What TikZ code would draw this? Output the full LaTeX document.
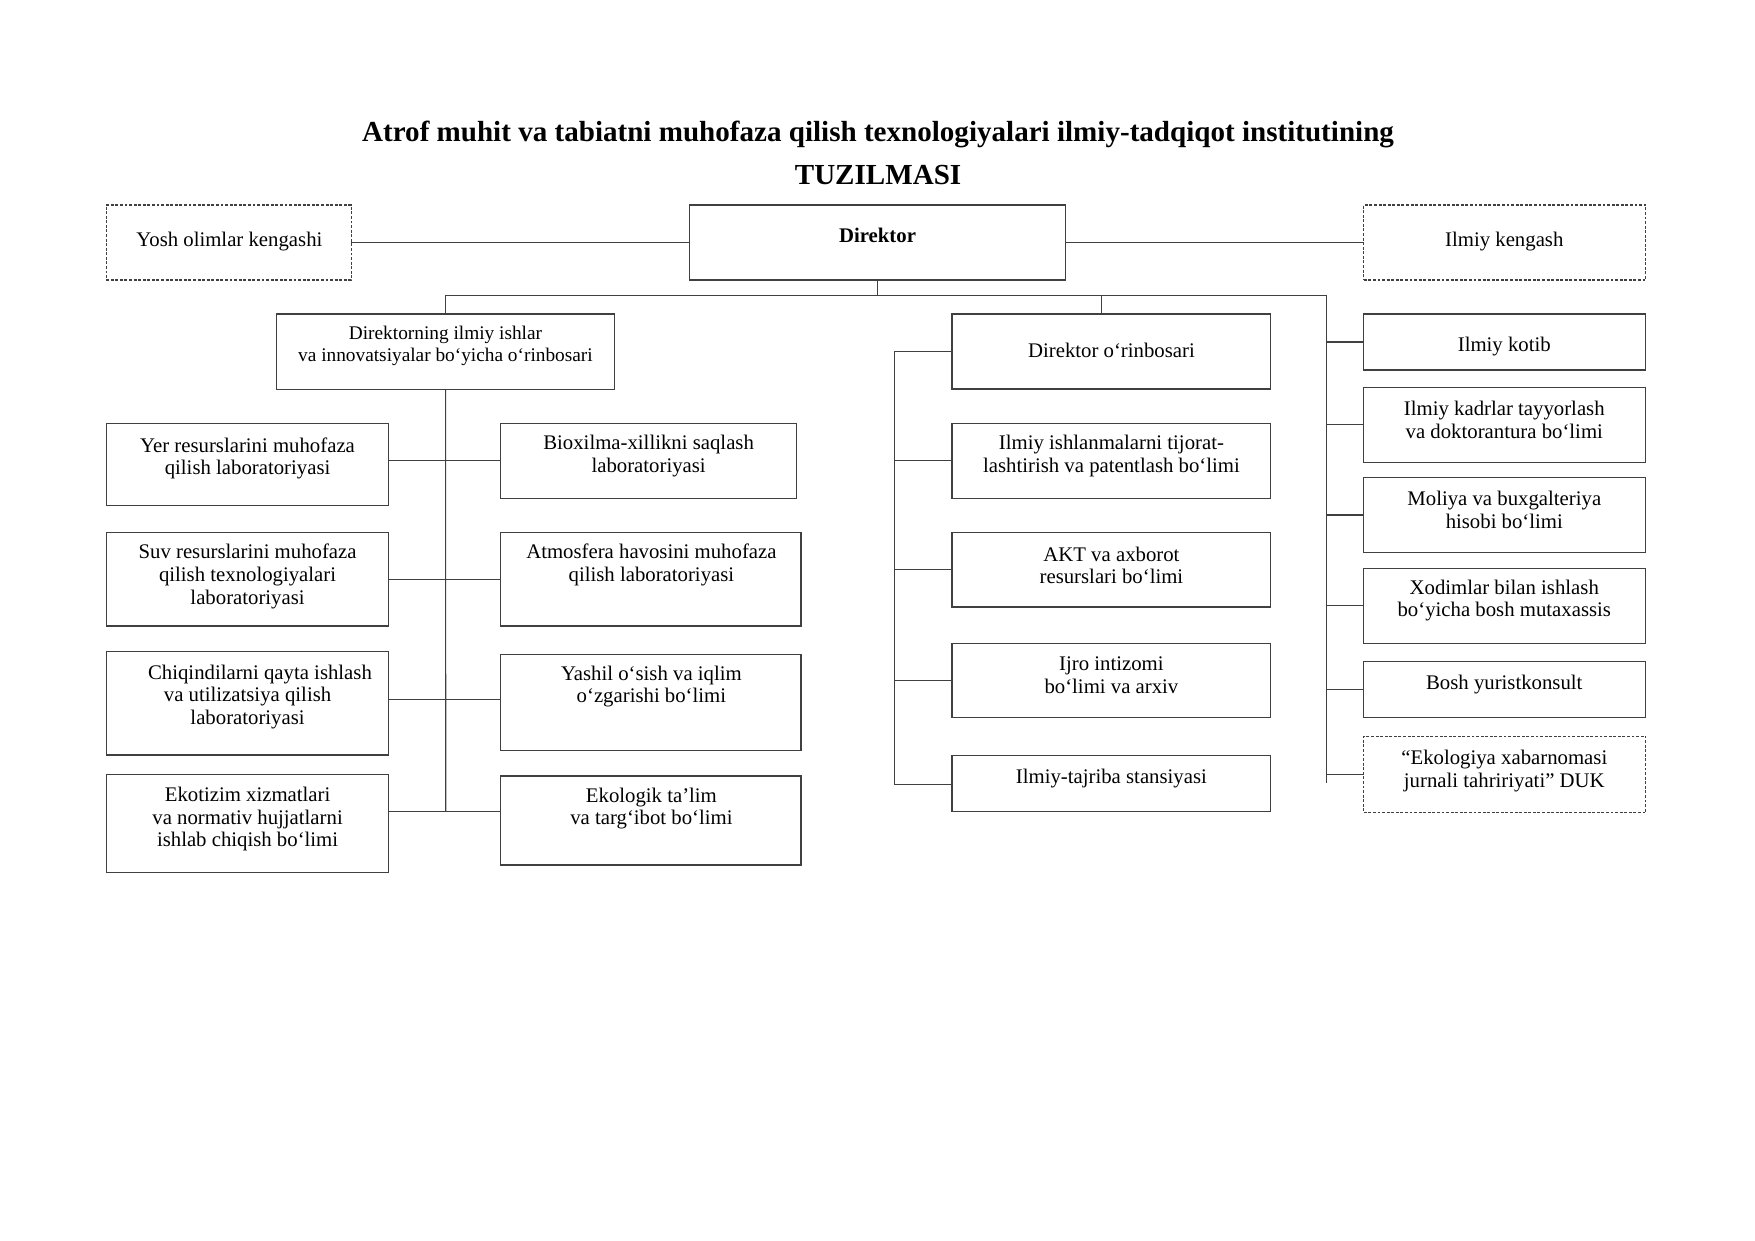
\documentclass[tikz,border=0pt]{standalone}
\usepackage{fontspec}
\setmainfont{Liberation Serif}
\usetikzlibrary{fit}
\begin{document}
\begin{tikzpicture}[x=0.18941mm, y=-0.18941mm,
  box/.style={draw=black!75, line width=0.55pt, inner sep=0pt, outer sep=0pt},
  dbox/.style={box, dash pattern=on 1.4pt off 0.8pt},
  txt/.style={align=center, inner sep=0pt, font=\fontsize{10}{10.9}\selectfont},
  stxt/.style={align=center, inner sep=0pt, font=\fontsize{9.3}{10.8}\selectfont},
  conn/.style={draw=black!75, line width=0.55pt}]
\useasboundingbox (0,0) rectangle (1568,1108);

% title
\node[font=\bfseries\fontsize{14}{16}\selectfont, anchor=base, inner sep=0pt] (t1) at (784.5,126.5) {Atrof muhit va tabiatni muhofaza qilish texnologiyalari ilmiy-tadqiqot institutining};
\node[font=\bfseries\fontsize{14}{16}\selectfont, anchor=base, inner sep=0pt] (t2) at (784.5,165) {TUZILMASI};

% boxes
\node[dbox, fit={(94.9,183.2) (313.8,250.2)}] (yosh) {};
\node[box,  fit={(615.9,183.2) (951.8,250.2)}] (dir) {};
\node[dbox, fit={(1218.5,183.2) (1470.5,250.2)}] (ik) {};
\node[box,  fit={(247.4,280.5) (548.9,347.8)}] (dz) {};
\node[box,  fit={(850.5,280.5) (1135,347.6)}] (dor) {};

\node[box, fit={(95.5,378.2) (346.9,451.8)}] (yer) {};
\node[box, fit={(447.4,378.2) (711.6,445.2)}] (bio) {};
\node[box, fit={(95.5,475.6) (346.9,559.3)}] (suv) {};
\node[box, fit={(447.4,475.6) (715.6,559.3)}] (atm) {};
\node[box, fit={(95.5,582.2) (346.9,674.5)}] (chq) {};
\node[box, fit={(447.4,584.6) (715.6,670.7)}] (yash) {};
\node[box, fit={(95.5,691.8) (346.9,779.7)}] (ekt) {};
\node[box, fit={(447.4,693.3) (715.6,772.8)}] (ekl) {};

\node[box, fit={(850.5,378) (1135,445)}] (iit) {};
\node[box, fit={(850.5,475.6) (1135,542.3)}] (akt) {};
\node[box, fit={(850.5,574.8) (1135,641.2)}] (ijro) {};
\node[box, fit={(850.5,675.1) (1135,725.2)}] (sta) {};

\node[box, fit={(1218.5,280.5) (1470.5,330.6)}] (kot) {};
\node[box, fit={(1218.5,346) (1470.5,413)}] (kad) {};
\node[box, fit={(1218.5,426.8) (1470.5,493.5)}] (mol) {};
\node[box, fit={(1218.5,507.8) (1470.5,574.8)}] (xod) {};
\node[box, fit={(1218.5,591.2) (1470.5,641.2)}] (bos) {};
\node[dbox, fit={(1218.5,657.8) (1470.5,726.2)}] (duk) {};

% texts
\node[txt] (yosh-t) at (205,215.5) {Yosh olimlar kengashi};
\node[font=\bfseries\fontsize{10}{12}\selectfont, anchor=base, inner sep=0pt] (dir-t) at (784,217) {Direktor};
\node[txt] (ik-t) at (1344,215.5) {Ilmiy kengash};
\node[stxt] (dz-t) at (398,309) {Direktorning ilmiy ishlar\\va innovatsiyalar bo‘yicha o‘rinbosari};
\node[txt] (dor-t) at (993,313) {Direktor o‘rinbosari};

\node[txt] (yer-t) at (221.2,409.5) {Yer resurslarini muhofaza\\qilish laboratoriyasi};
\node[txt] (bio-t) at (579.5,407.5) {Bioxilma-xillikni saqlash\\laboratoriyasi};
\node[txt] (suv-t) at (221.2,515) {Suv resurslarini muhofaza\\qilish texnologiyalari\\laboratoriyasi};
\node[txt] (atm-t) at (582,505) {Atmosfera havosini muhofaza\\qilish laboratoriyasi};
\node[txt] (chq-t) at (221.2,622.5) {\hspace*{4.2mm}Chiqindilarni qayta ishlash\\va utilizatsiya qilish\\laboratoriyasi};
\node[txt] (yash-t) at (582,613.5) {Yashil o‘sish va iqlim\\o‘zgarishi bo‘limi};
\node[txt] (ekt-t) at (221.2,732) {Ekotizim xizmatlari\\va normativ hujjatlarni\\ishlab chiqish bo‘limi};
\node[txt] (ekl-t) at (582,722.5) {Ekologik ta’lim\\va targ‘ibot bo‘limi};

\node[txt] (iit-t) at (993,407.5) {Ilmiy ishlanmalarni tijorat-\\lashtirish va patentlash bo‘limi};
\node[txt] (akt-t) at (993,505) {AKT va axborot\\resurslari bo‘limi};
\node[txt] (ijro-t) at (993,603.5) {Ijro intizomi\\bo‘limi va arxiv};
\node[txt] (sta-t) at (993,695.5) {Ilmiy-tajriba stansiyasi};

\node[txt] (kot-t) at (1344,310) {Ilmiy kotib};
\node[txt] (kad-t) at (1344,375) {Ilmiy kadrlar tayyorlash\\va doktorantura bo‘limi};
\node[txt] (mol-t) at (1344,455.5) {Moliya va buxgalteriya\\hisobi bo‘limi};
\node[txt] (xod-t) at (1344,536.5) {Xodimlar bilan ishlash\\bo‘yicha bosh mutaxassis};
\node[txt] (bos-t) at (1344,611.5) {Bosh yuristkonsult};
\node[txt] (duk-t) at (1344,689) {“Ekologiya xabarnomasi\\jurnali tahririyati” DUK};

% connectors
\coordinate (busy) at (0,264);
\coordinate (bm) at (984.3,264);
\coordinate (br) at (1185,264);
\coordinate (brend) at (1185,699.8);
\coordinate (lend) at (398.2,725.2);
\coordinate (c3) at (0,624.8);
\coordinate (mtop) at (799,314.05);
\coordinate (mbot) at (799,701);

\draw[conn] (yosh.east) -- (dir.west);
\draw[conn] (dir.east) -- (ik.west);
\draw[conn] (dir.south) -- (dir.south |- busy);
\draw[conn] (dz.north) -- (dz.north |- busy) -- (br) -- (brend);
\draw[conn] (bm) -- (bm |- dor.north);

\draw[conn] (dz.south) -- (lend);
\draw[conn] (yer.east |- bio.west) -- (bio.west);
\draw[conn] (suv.east) -- (atm.west);
\draw[conn] (chq.east |- c3) -- (yash.west |- c3);
\draw[conn] (ekt.east |- lend) -- (ekl.west |- lend);

\draw[conn] (dor.west) -- (mtop) -- (mbot) -- (sta.west |- mbot);
\draw[conn] (mtop |- iit.west) -- (iit.west);
\draw[conn] (mtop |- akt.west) -- (akt.west);
\draw[conn] (mtop |- ijro.west) -- (ijro.west);

\draw[conn] (br |- kot.west) -- (kot.west);
\draw[conn] (br |- kad.west) -- (kad.west);
\draw[conn] (br |- mol.west) -- (mol.west);
\draw[conn] (br |- xod.west) -- (xod.west);
\draw[conn] (br |- bos.west) -- (bos.west);
\draw[conn] (br |- duk.west) -- (duk.west);
\end{tikzpicture}
\end{document}
